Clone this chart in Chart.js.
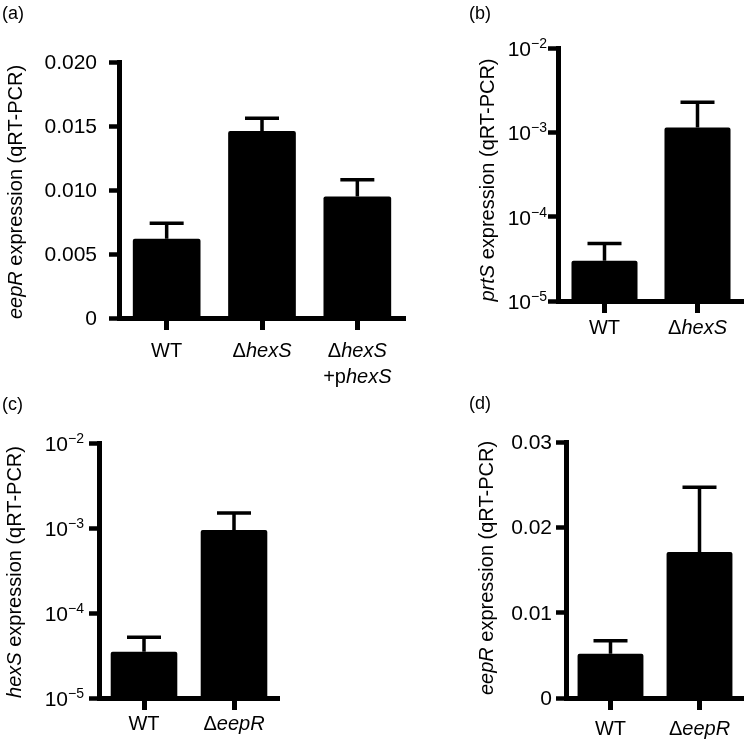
<!DOCTYPE html>
<html>
<head>
<meta charset="utf-8">
<script src="https://cdn.jsdelivr.net/npm/chart.js@4.4.1/dist/chart.umd.min.js"></script>
<style>
  body { margin: 0; background: #fff; }
  #wrap { position: relative; width: 744px; height: 741px; }
  #wrap canvas { position: absolute; left: 0; top: 0; }
</style>
</head>
<body>
<div id="wrap">
  <canvas id="chartA" width="744" height="741"></canvas>
  <canvas id="chartB" width="744" height="741"></canvas>
  <canvas id="chartC" width="744" height="741"></canvas>
  <canvas id="chartD" width="744" height="741"></canvas>
</div>
<script>
// ---- data ----
// *text* = italic, \n = second line
const aCategories = ["WT", "Δ*hexS*", "Δ*hexS*\n+p*hexS*"];
const aMeans = [0.0062, 0.0146, 0.0095];
const aErrors = [0.0012, 0.0010, 0.0013];
const aTicks = [0, 0.005, 0.010, 0.015, 0.020];
const aTickLabels = ["0", "0.005", "0.010", "0.015", "0.020"];

const bCategories = ["WT", "Δ*hexS*"];
const bMeans = [3.0e-5, 1.14e-3];
const bErrors = [1.8e-5, 1.13e-3];
const bTicks = [1e-5, 1e-4, 1e-3, 1e-2];
const bTickLabels = ["10^−5", "10^−4", "10^−3", "10^−2"];

const cCategories = ["WT", "Δ*eepR*"];
const cMeans = [3.5e-5, 9.5e-4];
const cErrors = [1.7e-5, 5.5e-4];
const cTicks = [1e-5, 1e-4, 1e-3, 1e-2];
const cTickLabels = ["10^−5", "10^−4", "10^−3", "10^−2"];

const dCategories = ["WT", "Δ*eepR*"];
const dMeans = [0.0052, 0.0171];
const dErrors = [0.0015, 0.0076];
const dTicks = [0, 0.01, 0.02, 0.03];
const dTickLabels = ["0", "0.01", "0.02", "0.03"];

const FONT = "'Liberation Sans', Arial, Helvetica, sans-serif";
const W = 744, H = 741;

function parseRich(str) {
  return str.split("*").map((t, i) => ({ t: t, it: i % 2 === 1 })).filter(s => s.t.length);
}

function fontFor(seg, size) {
  return (seg.it ? "italic " : "") + size + "px " + FONT;
}

function richWidth(ctx, segs, size) {
  let w = 0;
  segs.forEach(s => { ctx.font = fontFor(s, size); w += ctx.measureText(s.t).width; });
  return w;
}

// draws mixed normal/italic text, centred on x
function drawRich(ctx, str, x, y, size) {
  const segs = parseRich(str);
  let cx = x - richWidth(ctx, segs, size) / 2;
  ctx.textAlign = "left";
  ctx.textBaseline = "alphabetic";
  segs.forEach(s => {
    ctx.font = fontFor(s, size);
    ctx.fillText(s.t, cx, y);
    cx += ctx.measureText(s.t).width;
  });
}

function makePanel(id, p) {
  const decor = {
    id: "decor",
    afterDraw(chart) {
      const ctx = chart.ctx;
      const ys = chart.scales.y;
      const xs = chart.scales.x;
      const area = chart.chartArea;
      const meta = chart.getDatasetMeta(0);
      ctx.save();
      ctx.fillStyle = "#000";
      ctx.strokeStyle = "#000";

      // error bars (upper only)
      ctx.lineWidth = 3.5;
      meta.data.forEach((bar, i) => {
        const top = ys.getPixelForValue(p.means[i] + p.errors[i]);
        ctx.beginPath();
        ctx.moveTo(bar.x, bar.y);
        ctx.lineTo(bar.x, top);
        ctx.moveTo(bar.x - 17, top);
        ctx.lineTo(bar.x + 17, top);
        ctx.stroke();
      });

      // y tick labels
      p.ticks.forEach((v, i) => {
        const py = ys.getPixelForValue(v);
        const right = area.left - p.tickGap;
        const lab = p.tickLabels[i];
        ctx.textBaseline = "alphabetic";
        ctx.textAlign = "right";
        if (lab.indexOf("^") >= 0) {
          const parts = lab.split("^");
          ctx.font = "14px " + FONT;
          const ew = ctx.measureText(parts[1]).width;
          ctx.fillText(parts[1], right, py + 0);
          ctx.font = "21px " + FONT;
          ctx.fillText(parts[0], right - ew, py + 8);
        } else {
          ctx.font = "21px " + FONT;
          ctx.fillText(lab, right, py + 7);
        }
      });

      // x category labels
      p.categories.forEach((c, i) => {
        const px = xs.getPixelForTick(i);
        c.split("\n").forEach((line, j) => {
          drawRich(ctx, line, px, area.bottom + p.xLabelDy + j * 26, 20);
        });
      });

      // y axis title, rotated
      ctx.save();
      ctx.translate(p.titleX, p.titleY);
      ctx.rotate(-Math.PI / 2);
      drawRich(ctx, p.title, 0, 0, 20);
      ctx.restore();

      // panel letter
      ctx.font = "18px " + FONT;
      ctx.textAlign = "left";
      ctx.textBaseline = "alphabetic";
      ctx.fillText(p.panelLabel, p.panelX, p.panelY);
      ctx.restore();
    }
  };

  const ctx = document.getElementById(id).getContext("2d");
  return new Chart(ctx, {
    type: "bar",
    data: {
      labels: p.categories.map(c => c.replace(/\*/g, "")),
      datasets: [{
        data: p.means,
        backgroundColor: "#000",
        borderRadius: 2,
        borderSkipped: "bottom",
        barPercentage: p.barPct,
        categoryPercentage: 1
      }]
    },
    options: {
      responsive: false,
      animation: false,
      devicePixelRatio: 1,
      events: [],
      layout: {
        padding: {
          left: p.area.left - 12,
          top: p.area.top,
          right: W - p.area.right,
          bottom: H - p.area.bottom - 14
        }
      },
      plugins: { legend: { display: false }, tooltip: { enabled: false } },
      scales: {
        x: {
          grid: { offset: false, drawOnChartArea: false, tickLength: 12, tickWidth: 5, color: "#000", tickColor: "#000" },
          border: { display: true, color: "#000", width: 5 },
          ticks: { display: false },
          afterFit: s => { s.height = 14; }
        },
        y: {
          type: p.log ? "logarithmic" : "linear",
          min: p.ticks[0],
          max: p.ticks[p.ticks.length - 1],
          grid: { drawOnChartArea: false, tickLength: 10, tickWidth: 4.5, color: "#000", tickColor: "#000" },
          border: { display: true, color: "#000", width: 5 },
          ticks: { display: false },
          afterBuildTicks: s => { s.ticks = p.ticks.map(v => ({ value: v })); },
          afterFit: s => { s.width = 12; }
        }
      }
    },
    plugins: [decor]
  });
}

makePanel("chartA", {
  categories: aCategories, means: aMeans, errors: aErrors,
  ticks: aTicks, tickLabels: aTickLabels, log: false,
  area: { left: 119, top: 62, right: 405, bottom: 318 },
  barPct: 0.71, tickGap: 22, xLabelDy: 39,
  title: "*eepR* expression (qRT-PCR)", titleX: 22, titleY: 192,
  panelLabel: "(a)", panelX: 2, panelY: 19
});

makePanel("chartB", {
  categories: bCategories, means: bMeans, errors: bErrors,
  ticks: bTicks, tickLabels: bTickLabels, log: true,
  area: { left: 558, top: 48, right: 744, bottom: 301 },
  barPct: 0.71, tickGap: 11, xLabelDy: 33,
  title: "*prtS* expression (qRT-PCR)", titleX: 494, titleY: 180,
  panelLabel: "(b)", panelX: 469, panelY: 19
});

makePanel("chartC", {
  categories: cCategories, means: cMeans, errors: cErrors,
  ticks: cTicks, tickLabels: cTickLabels, log: true,
  area: { left: 99, top: 443, right: 279, bottom: 698 },
  barPct: 0.74, tickGap: 15, xLabelDy: 32,
  title: "*hexS* expression (qRT-PCR)", titleX: 21, titleY: 572,
  panelLabel: "(c)", panelX: 2, panelY: 410
});

makePanel("chartD", {
  categories: dCategories, means: dMeans, errors: dErrors,
  ticks: dTicks, tickLabels: dTickLabels, log: false,
  area: { left: 566, top: 442, right: 744, bottom: 698 },
  barPct: 0.74, tickGap: 14, xLabelDy: 37,
  title: "*eepR* expression (qRT-PCR)", titleX: 493, titleY: 568,
  panelLabel: "(d)", panelX: 469, panelY: 409
});
</script>
</body>
</html>
